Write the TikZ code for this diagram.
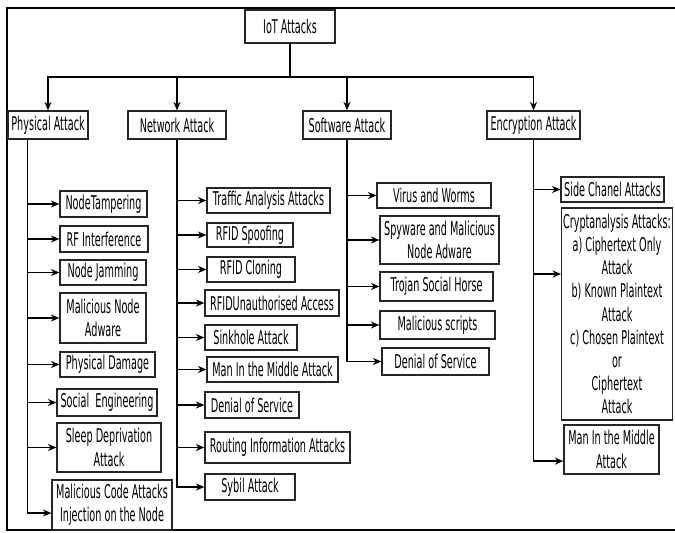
\documentclass[tikz,border=0pt]{standalone}
\usepackage{fontspec}
\setmainfont{DejaVu Sans}[FakeStretch=0.51]
\usetikzlibrary{positioning, arrows.meta, calc}
\newdimen\pxunit \pxunit=0.025cm

\begin{document}
\begin{tikzpicture}[
  x=0.025cm, y=-0.025cm,
  every node/.style={font=\fontsize{13.5}{16.5}\selectfont},
  box/.style={draw=black!85, line width=0.9pt, inner xsep=1pt, inner ysep=1pt, align=center},
  sz/.style 2 args={minimum width=#1\pxunit, minimum height=#2\pxunit},
  arr/.style={-{Stealth[length=6pt,width=5pt]}, line width=0.9pt},
]
  \useasboundingbox (0,0) rectangle (675,532);
  % frame
  \draw[line width=1.4pt] (675,8) -- (7,8) -- (7,530) -- (675,530);
  % root and categories
  \node[box, sz={90}{33}] (iot) at (290,26.5) {IoT Attacks};
  \node[box, sz={80}{28}] (phys) at (48,125) {Physical Attack};
  \node[box, sz={98}{28}] (net) at (177,125) {Network Attack};
  \node[box, sz={88}{28}] (soft) at (347,125) {Software Attack};
  \node[box, sz={93}{28}] (enc) at (533.5,125) {Encryption Attack};
  \coordinate (bus) at (290,77);
  \foreach \c in {phys,net,soft,enc}
    \draw[arr] (iot.south) -- (bus) -| (\c.north);

  % physical attacks
  \node[box, sz={87}{26}] (p1) at (103.5,204) {NodeTampering};
  \node[box, sz={88}{26}] (p2) at (104,239) {RF Interference};
  \node[box, sz={86}{25}] (p3) at (103,272.5) {Node Jamming};
  \node[box, sz={86}{50}] (p4) at (103,318) {Malicious Node\\Adware};
  \node[box, sz={95}{25}] (p5) at (107.5,364.5) {Physical Damage};
  \node[box, sz={100}{27}] (p6) at (107,402.5) {Social\ \ Engineering};
  \node[box, sz={104}{49}] (p7) at (109,447.5) {Sleep Deprivation\\Attack};
  \node[box, sz={120}{50}] (p8) at (112,505) {Malicious Code Attacks\\Injection on the Node};
  \coordinate (physT) at ($(phys.south west)!0.25!(phys.south east)$);
  \foreach \i in {1,...,7}
    \draw[arr] (physT) |- (p\i.west);
  \draw[arr] (physT) |- ([yshift=-0.2cm]p8.west);

  % network attacks
  \node[box, sz={123}{25}] (n1) at (268.5,200.5) {Traffic Analysis Attacks};
  \node[box, sz={86}{24}] (n2) at (250,235) {RFID Spoofing};
  \node[box, sz={88}{25}] (n3) at (251,269.5) {RFID Cloning};
  \node[box, sz={134}{26}] (n4) at (272,303) {RFIDUnauthorised Access};
  \node[box, sz={92}{25}] (n5) at (251,337.5) {Sinkhole Attack};
  \node[box, sz={131}{25}] (n6) at (272.5,369.5) {Man In the Middle Attack};
  \node[box, sz={94}{26}] (n7) at (252,405) {Denial of Service};
  \node[box, sz={145}{31}] (n8) at (277.5,447.5) {Routing Information Attacks};
  \node[box, sz={90}{26}] (n9) at (250,487) {Sybil Attack};
  \foreach \i in {1,...,9}
    \draw[arr] (net.south) |- (n\i.west);

  % software attacks
  \node[box, sz={114}{25}] (s1) at (434,195.5) {Virus and Worms};
  \node[box, sz={119}{48}] (s2) at (439.5,240) {Spyware and Malicious\\Node Adware};
  \node[box, sz={113}{29}] (s3) at (436.5,286.5) {Trojan Social Horse};
  \node[box, sz={115}{28}] (s4) at (437.5,325) {Malicious scripts};
  \node[box, sz={107}{27}] (s5) at (435.5,361.5) {Denial of Service};
  \foreach \i in {1,...,5}
    \draw[arr] (soft.south) |- (s\i.west);

  % encryption attacks
  \node[box, sz={103}{25}] (e1) at (612.5,189.5) {Side Chanel Attacks};
  \node[box, sz={110}{212}] (e2) at (617,314) {Cryptanalysis Attacks:\\a) Ciphertext Only\\Attack\\b) Known Plaintext\\Attack\\c) Chosen Plaintext\\or\\Ciphertext\\Attack};
  \node[box, sz={95}{49}] (e3) at (611.5,449.5) {Man In the Middle\\Attack};
  \draw[arr] (enc.south) |- (e1.west);
  \draw[arr] (enc.south) |- ([yshift=1cm]e2.west);
  \draw[arr] (enc.south) |- ([yshift=-0.29cm]e3.west);
\end{tikzpicture}
\end{document}
